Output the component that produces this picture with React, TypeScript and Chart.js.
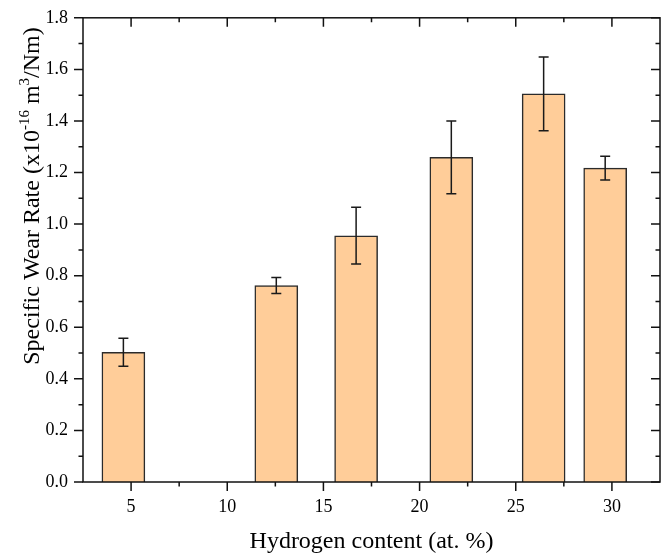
import React, { useEffect, useRef } from "react";
import { Chart, registerables } from "chart.js";

Chart.register(...registerables);

// ---- data ----
const hydrogenContent = [4.6, 12.55, 16.7, 21.65, 26.45, 29.65];
const wearRate = [0.503, 0.762, 0.955, 1.259, 1.505, 1.217];
const wearRateError = [0.054, 0.031, 0.11, 0.141, 0.143, 0.046];

const xTickValues = [5, 10, 15, 20, 25, 30];
const xMinorTickValues = [7.5, 12.5, 17.5, 22.5, 27.5];
const yTickValues = [0, 0.2, 0.4, 0.6, 0.8, 1.0, 1.2, 1.4, 1.6, 1.8];
const yMinorTickValues = [0.1, 0.3, 0.5, 0.7, 0.9, 1.1, 1.3, 1.5, 1.7];

const xTitle = "Hydrogen content (at. %)";
const yTitleParts = [
  { text: "Specific Wear Rate (x10", sup: false },
  { text: "-16", sup: true },
  { text: " m", sup: false },
  { text: "3", sup: true },
  { text: "/Nm)", sup: false },
];

const FONT = "'Liberation Serif', 'Times New Roman', serif";

const decorPlugin = {
  id: "decor",
  afterDatasetsDraw(chart: any) {
    const { ctx, chartArea, scales } = chart;
    const { left, right, top, bottom } = chartArea;
    const x = scales.x;
    const y = scales.y;
    ctx.save();
    // error bars
    ctx.strokeStyle = "#1a1a1a";
    ctx.lineWidth = 1.5;
    hydrogenContent.forEach((hx, i) => {
      const px = x.getPixelForValue(hx);
      const yt = y.getPixelForValue(wearRate[i] + wearRateError[i]);
      const yb = y.getPixelForValue(wearRate[i] - wearRateError[i]);
      ctx.beginPath();
      ctx.moveTo(px, yt);
      ctx.lineTo(px, yb);
      ctx.moveTo(px - 5, yt);
      ctx.lineTo(px + 5, yt);
      ctx.moveTo(px - 5, yb);
      ctx.lineTo(px + 5, yb);
      ctx.stroke();
    });
    // frame
    ctx.strokeStyle = "#111";
    ctx.lineWidth = 1.5;
    ctx.strokeRect(left, top, right - left, bottom - top);
    // ticks
    const MAJ = 9;
    const MIN = 4.5;
    ctx.beginPath();
    xTickValues.forEach((v) => {
      const p = x.getPixelForValue(v);
      ctx.moveTo(p, bottom);
      ctx.lineTo(p, bottom + MAJ);
      ctx.moveTo(p, top);
      ctx.lineTo(p, top + MAJ);
    });
    xMinorTickValues.forEach((v) => {
      const p = x.getPixelForValue(v);
      ctx.moveTo(p, bottom);
      ctx.lineTo(p, bottom + MIN);
      ctx.moveTo(p, top);
      ctx.lineTo(p, top + MIN);
    });
    yTickValues.forEach((v) => {
      const p = y.getPixelForValue(v);
      ctx.moveTo(left - MAJ, p);
      ctx.lineTo(left, p);
      ctx.moveTo(right - MAJ, p);
      ctx.lineTo(right, p);
    });
    yMinorTickValues.forEach((v) => {
      const p = y.getPixelForValue(v);
      ctx.moveTo(left - MIN, p);
      ctx.lineTo(left, p);
      ctx.moveTo(right - MIN, p);
      ctx.lineTo(right, p);
    });
    ctx.stroke();

    // y title with superscripts
    const big = `24px ${FONT}`;
    const small = `15px ${FONT}`;
    let total = 0;
    yTitleParts.forEach((part) => {
      ctx.font = part.sup ? small : big;
      total += ctx.measureText(part.text).width;
    });
    ctx.translate(31, 196);
    ctx.rotate(-Math.PI / 2);
    ctx.fillStyle = "#000";
    ctx.textAlign = "left";
    ctx.textBaseline = "alphabetic";
    let u = -total / 2;
    yTitleParts.forEach((part) => {
      ctx.font = part.sup ? small : big;
      ctx.fillText(part.text, u, part.sup ? -2 : 8);
      u += ctx.measureText(part.text).width;
    });
    ctx.restore();
  },
};

export default function App() {
  const canvasRef = useRef<HTMLCanvasElement | null>(null);

  useEffect(() => {
    if (!canvasRef.current) return;
    const chart = new Chart(canvasRef.current, {
      type: "bar",
      data: {
        datasets: [
          {
            data: hydrogenContent.map((hx, i) => ({ x: hx, y: wearRate[i] })),
            backgroundColor: "#FFCD99",
            borderColor: "#2b2b2b",
            borderWidth: 1.5,
            barThickness: 43,
          },
        ],
      },
      options: {
        animation: false,
        responsive: true,
        maintainAspectRatio: false,
        layout: { padding: { top: 7, right: 12, left: 0, bottom: 0 } },
        plugins: {
          legend: { display: false },
          tooltip: { enabled: false },
        },
        scales: {
          x: {
            type: "linear",
            offset: false,
            min: 2.5,
            max: 32.5,
            grid: { display: false, offset: false },
            border: { display: false },
            afterBuildTicks: (scale: any) => {
              scale.ticks = xTickValues.map((v) => ({ value: v }));
            },
            afterFit: (scale: any) => {
              scale.height = 76;
            },
            ticks: {
              color: "#000",
              font: { family: FONT, size: 18 },
              padding: 6,
              maxRotation: 0,
              callback: (v: any) => String(v),
            },
            title: {
              display: true,
              text: xTitle,
              color: "#000",
              font: { family: FONT, size: 24 },
              padding: { top: 0, bottom: 2 },
            },
          },
          y: {
            type: "linear",
            min: 0,
            max: 1.8,
            grid: { display: false },
            border: { display: false },
            afterBuildTicks: (scale: any) => {
              scale.ticks = yTickValues.map((v) => ({ value: v }));
            },
            afterFit: (scale: any) => {
              scale.width = 83;
            },
            ticks: {
              color: "#000",
              font: { family: FONT, size: 18 },
              padding: 7,
              callback: (v: any) => Number(v).toFixed(1),
            },
          },
        },
      },
      plugins: [decorPlugin],
    });
    return () => chart.destroy();
  }, []);

  return (
    <div
      style={{
        position: "fixed",
        left: 0,
        top: 0,
        width: 672,
        height: 558,
        background: "#fff",
      }}
    >
      <canvas ref={canvasRef} />
    </div>
  );
}
